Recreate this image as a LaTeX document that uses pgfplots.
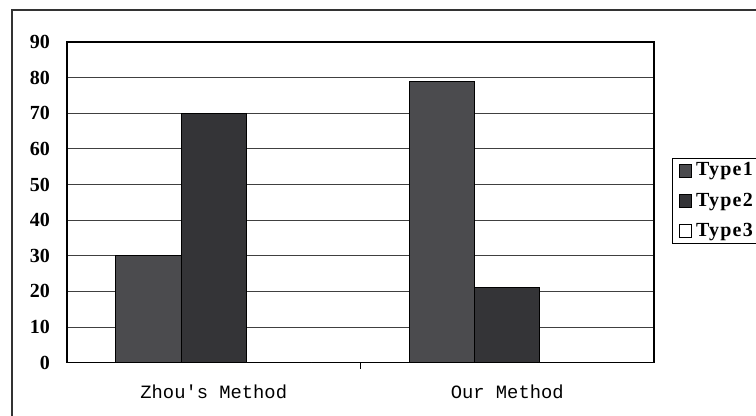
\documentclass[border=0pt]{standalone}
\usepackage{pgfplots}
\pgfplotsset{compat=1.18}
\usepackage{fontspec}
\setmainfont{Liberation Serif}
\setmonofont{Liberation Mono}
\newfontfamily\legendfont[LetterSpace=6]{Liberation Serif}
\definecolor{typeone}{HTML}{4B4B4E}
\definecolor{typetwo}{HTML}{343437}
\begin{document}
\begin{tikzpicture}
\clip (0pt,0pt) rectangle (378pt,-208pt);
% outer chart frame
\draw[line width=1pt, black!80] (6pt,-230pt) -- (6pt,-5pt) -- (400pt,-5pt);
\begin{axis}[
  at={(33.5pt,-181.35pt)}, anchor=south west,
  scale only axis, width=293.5pt, height=160.35pt,
  xmin=-0.5, xmax=1.5, ymin=0, ymax=90,
  ybar=0pt, bar width=32.6pt,
  ytick={0,10,...,90},
  xtick={0,1}, xticklabels={Zhou's Method, Our Method},
  xtick pos=bottom,
  extra x ticks={0.5}, extra x tick labels={},
  extra x tick style={major tick length=3pt, tick align=outside, tick style={black}},
  major tick length=0pt,
  ymajorgrids, grid style={black!75, line width=0.5pt},
  axis line style={black, line width=0.6pt},
  /pgf/number format/assume math mode=true,
  yticklabel style={font=\fontsize{10}{11}\selectfont\bfseries, xshift=-5pt},
  xticklabel style={font=\ttfamily\fontsize{9.4}{11}\selectfont, yshift=-7.5pt},
  legend style={at={(1.0307,0.638)}, anchor=north west, draw=black, line width=0.5pt,
    font=\legendfont\fontsize{10}{11}\selectfont\bfseries, row sep=3pt,
    inner xsep=3pt, inner ysep=0pt},
  legend cell align=left,
  legend image code/.code={\draw[#1,draw=black,line width=0.4pt] (0pt,-3.2pt) rectangle (6.4pt,3.2pt);},
]
\addplot[fill=typeone, draw=black, line width=0.5pt] coordinates {(0,30) (1,79)};
\addplot[fill=typetwo, draw=black, line width=0.5pt] coordinates {(0,70) (1,21)};
\addplot[fill=white, draw=black, line width=0.5pt] coordinates {(0,0) (1,0)};
\legend{Type1, Type2, Type3}
\end{axis}
\end{tikzpicture}
\end{document}
